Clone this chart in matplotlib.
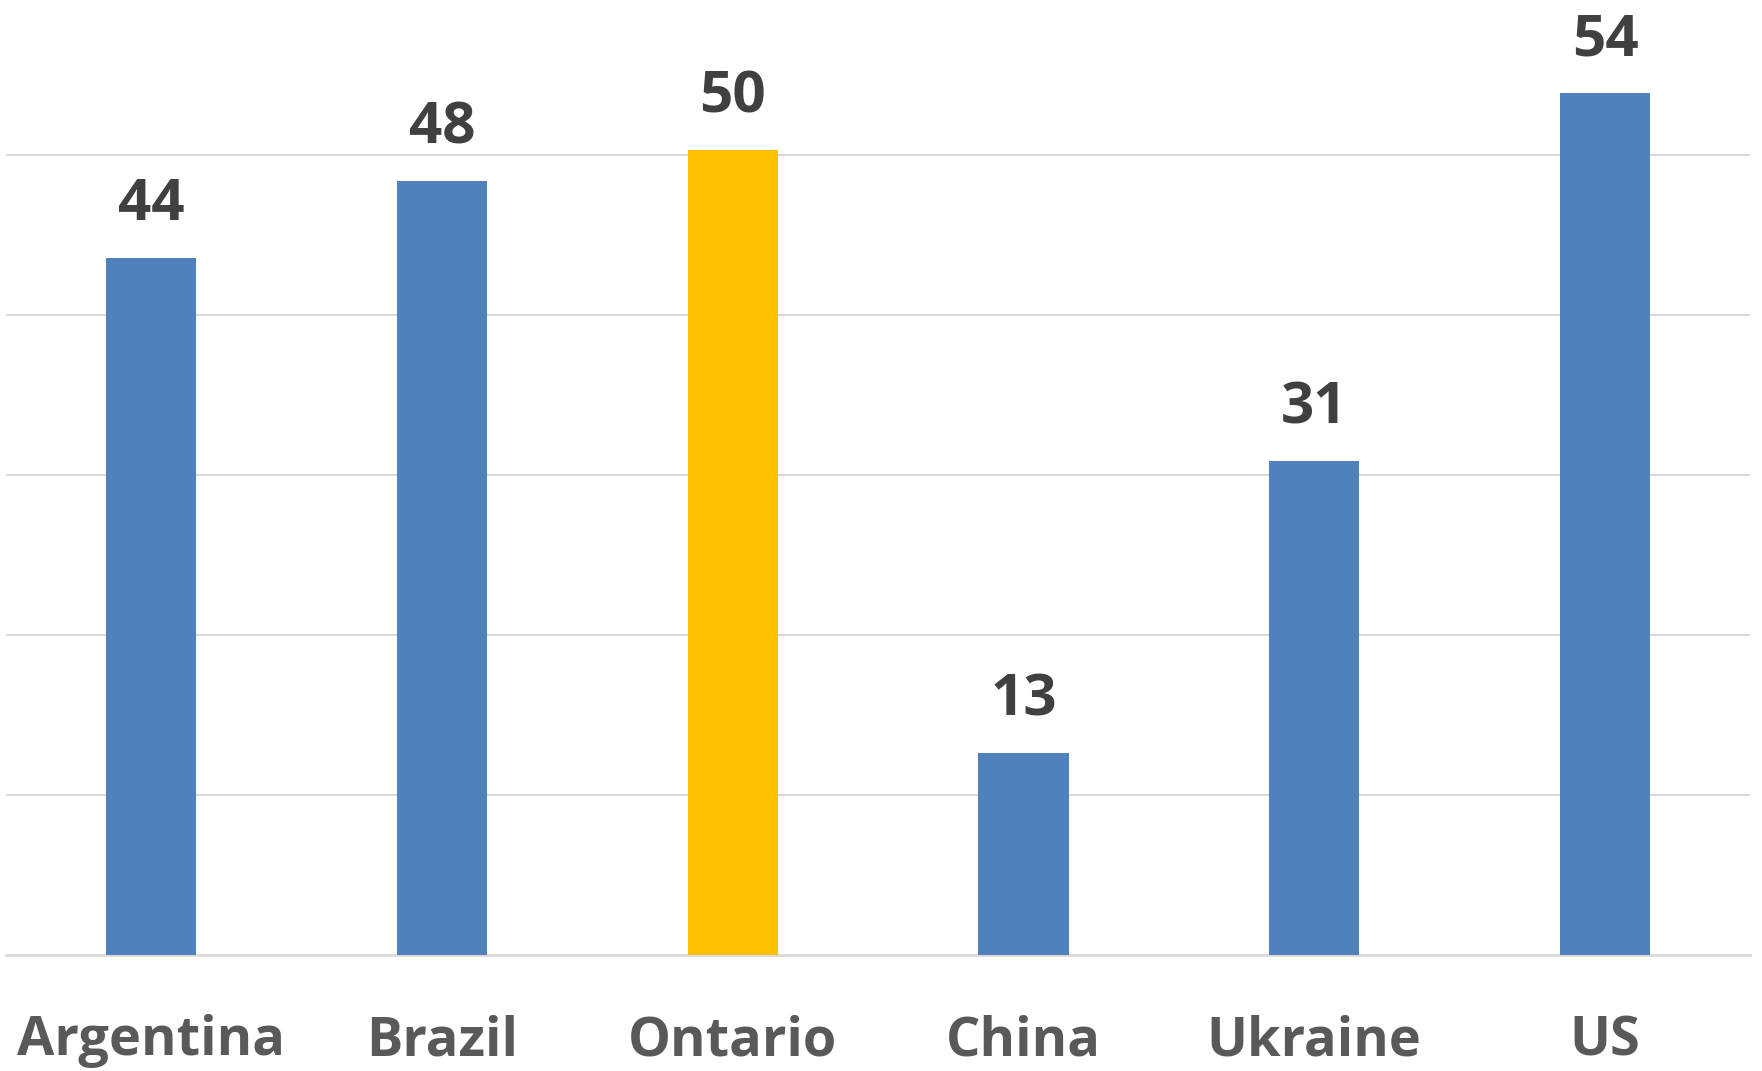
import matplotlib.pyplot as plt

countries = ['Argentina', 'Brazil', 'Ontario', 'China', 'Ukraine', 'US']
values = [43.6, 48.4, 50.3, 12.6, 30.9, 53.9]
highlight = 'Ontario'

blue = '#4F81BD'
gold = '#FFC000'
colors = [gold if c == highlight else blue for c in countries]

fig = plt.figure(figsize=(17.62, 10.71), dpi=100)
ax = fig.add_axes([0.0034, 0.1083, 0.990, 0.8917])

x = range(len(countries))
bars = ax.bar(x, values, width=0.31, color=colors, zorder=3)

ax.set_xlim(-0.5, 5.5)
ax.set_ylim(0, 59.7)
ax.set_yticks([10, 20, 30, 40, 50])
ax.yaxis.grid(True, color='#d9d9d9', linewidth=1.5, zorder=0)
ax.tick_params(axis='y', left=False, labelleft=False)
ax.tick_params(axis='x', bottom=False, pad=39)
ax.set_xticks(list(x))
ax.set_xticklabels(countries, fontsize=39, fontweight='bold', color='#595959',
                   family='Open Sans')

for s in ['top', 'right', 'left']:
    ax.spines[s].set_visible(False)
ax.spines['bottom'].set_color('#d9d9d9')
ax.spines['bottom'].set_linewidth(2)

# value labels above each bar (rounded like the original)
for b, v in zip(bars, values):
    ax.annotate('%d' % round(v), (b.get_x() + b.get_width() / 2, v),
                xytext=(0, 27), textcoords='offset points',
                ha='center', va='baseline', fontsize=42, fontweight='bold',
                color='#404040', family='Open Sans', annotation_clip=False)

fig.savefig('out.png', dpi=100)
